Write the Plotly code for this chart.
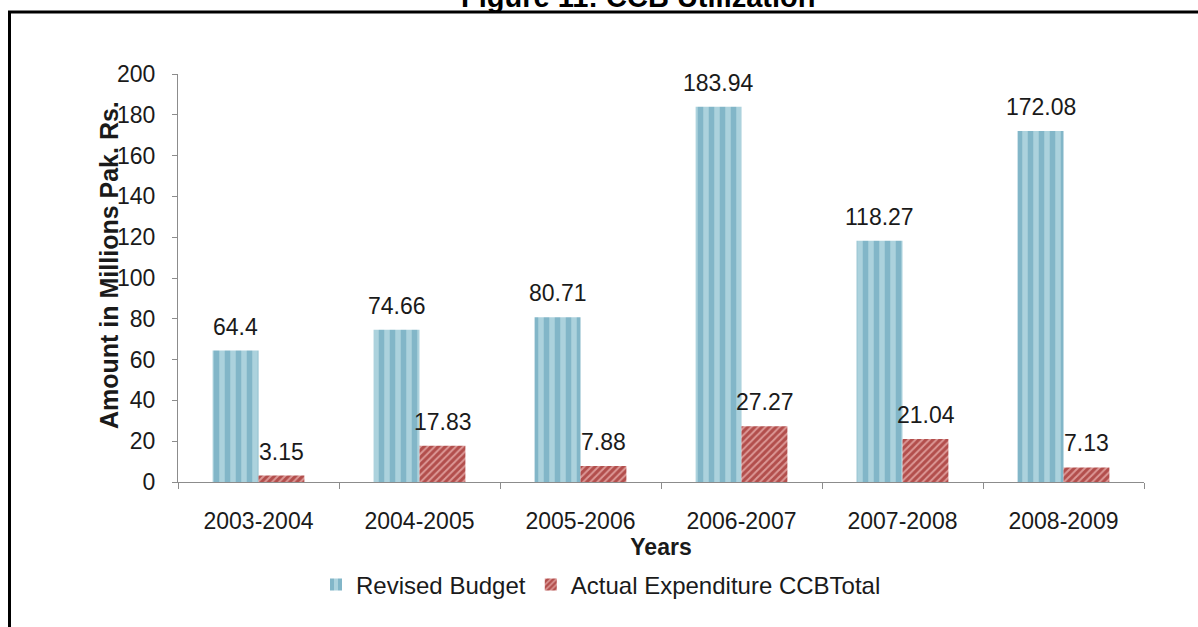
import plotly.graph_objects as go

years = ["2003-2004", "2004-2005", "2005-2006", "2006-2007", "2007-2008", "2008-2009"]
revised_budget = [64.4, 74.66, 80.71, 183.94, 118.27, 172.08]
actual_expenditure = [3.15, 17.83, 7.88, 27.27, 21.04, 7.13]
y_ticks = [0, 20, 40, 60, 80, 100, 120, 140, 160, 180, 200]

FONT = "Liberation Sans, Arial, sans-serif"
TXT = "#1a1a1a"
W, H = 1198, 627
L, R, T, B = 178, 54, 74, 145
pw = W - L - R
ph = H - T - B
BAR_HALF = 23  # pixel offset of each bar centre from its category centre

def px_x(px):
    return (px - L) / pw

def px_y(py):
    return (H - B - py) / ph

fig = go.Figure()
fig.add_trace(go.Bar(
    x=years, y=revised_budget, name="Revised Budget",
    marker=dict(color="#acd2dd", line=dict(width=0),
                pattern=dict(shape="|", fgcolor="#82b6c8", bgcolor="#acd2dd",
                             size=11, solidity=0.5, fillmode="replace")),
))
fig.add_trace(go.Bar(
    x=years, y=actual_expenditure, name="Actual Expenditure CCBTotal",
    marker=dict(color="#b24e4c", line=dict(width=0),
                pattern=dict(shape="/", fgcolor="#dc9896", bgcolor="#b24e4c",
                             size=5, solidity=0.4, fillmode="replace")),
))

annotations = []
for yr, v in zip(years, revised_budget):
    annotations.append(dict(x=yr, y=v, xref="x", yref="y", text=f"{v:g}", showarrow=False,
                            xshift=-BAR_HALF, yshift=9, xanchor="center", yanchor="bottom",
                            font=dict(family=FONT, size=23, color=TXT)))
for yr, v in zip(years, actual_expenditure):
    annotations.append(dict(x=yr, y=v, xref="x", yref="y", text=f"{v:g}", showarrow=False,
                            xshift=BAR_HALF, yshift=9, xanchor="center", yanchor="bottom",
                            font=dict(family=FONT, size=23, color=TXT)))
annotations.append(dict(
    text="<b>Figure 11: CCB Utilization</b>", xref="paper", yref="paper",
    x=px_x(638), y=px_y(-3), xanchor="center", yanchor="middle", showarrow=False,
    font=dict(family=FONT, size=29, color="#000000"),
))
# y-axis title (placed to overlap the tick labels slightly, as in the original)
annotations.append(dict(
    text="<b>Amount in Millions Pak. Rs.</b>", xref="paper", yref="paper",
    x=px_x(109), y=px_y(265), xanchor="center", yanchor="middle", textangle=-90,
    showarrow=False, font=dict(family=FONT, size=25, color=TXT),
))

fig.update_layout(
    width=W, height=H,
    margin=dict(l=L, r=R, t=T, b=B),
    paper_bgcolor="white", plot_bgcolor="white",
    barmode="group", bargap=0.43, bargroupgap=0,
    font=dict(family=FONT, size=23, color=TXT),
    showlegend=True,
    legend=dict(orientation="h", x=px_x(601), xanchor="center", y=px_y(585), yanchor="middle",
                font=dict(family=FONT, size=24, color=TXT), itemwidth=30,
                traceorder="normal", bgcolor="rgba(0,0,0,0)"),
    xaxis=dict(
        showline=True, linecolor="#8c8c8c", linewidth=1,
        ticks="outside", tickson="boundaries", ticklen=6, tickcolor="#8c8c8c",
        tickfont=dict(family=FONT, size=23, color=TXT),
        ticklabelstandoff=18,
        title=dict(text="<b>Years</b>", font=dict(family=FONT, size=23, color=TXT), standoff=0),
        showgrid=False, zeroline=False,
    ),
    yaxis=dict(
        range=[0, 200], tickvals=y_ticks,
        showline=True, linecolor="#8c8c8c", linewidth=1,
        ticks="outside", ticklen=5, tickcolor="#8c8c8c",
        tickfont=dict(family=FONT, size=23, color=TXT),
        ticklabelstandoff=12,
        showgrid=False, zeroline=False,
    ),
    annotations=annotations,
    shapes=[dict(
        type="rect", xref="paper", yref="paper",
        x0=px_x(9.5), x1=px_x(1260), y0=px_y(700), y1=px_y(12),
        line=dict(color="black", width=3), fillcolor="rgba(0,0,0,0)",
    )],
)

fig.write_html("out.html", config={"displayModeBar": False},
               post_script="document.body.style.margin='0px';document.body.style.overflow='hidden';")
